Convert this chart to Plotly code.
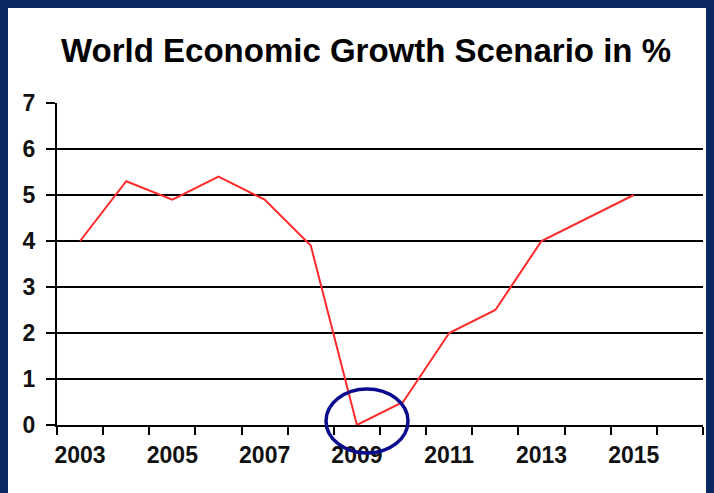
import plotly.graph_objects as go

years = ["2003", "2004", "2005", "2006", "2007", "2008", "2009",
         "2010", "2011", "2012", "2013", "2014", "2015", "2016"]
growth = [4.0, 5.3, 4.9, 5.4, 4.9, 3.9, 0.0, 0.5, 2.0, 2.5, 4.0, 4.5, 5.0, None]
tick_labels = ["2003", "", "2005", "", "2007", "", "2009",
               "", "2011", "", "2013", "", "2015", ""]
title_text = "World Economic Growth Scenario in %"

FONT = "Liberation Sans, Arial, sans-serif"
NAVY = "#0a2862"

fig = go.Figure()
fig.add_trace(go.Scatter(
    x=years, y=growth, mode="lines",
    line=dict(color="#ff2a2a", width=2),
    connectgaps=False, showlegend=False,
))

W, H = 714, 493
OFF = 8  # page offset of the plot div (body margin)
PX0, PX1, PY0, PY1 = 57, 703, 103, 425
L = PX0 - OFF
T = PY0 - OFF
R = W - (PX1 - OFF)
B = H - (PY1 - OFF)
pw, ph = PX1 - PX0, PY1 - PY0

def px2paper_x(px):
    return (px - PX0) / pw

def px2paper_y(py):
    return (PY1 - py) / ph

shapes = [
    # white panel: whole figure (navy frame comes from the page margin)
    dict(type="rect", xref="paper", yref="paper",
         x0=px2paper_x(OFF), x1=px2paper_x(W + OFF),
         y0=px2paper_y(H + OFF), y1=px2paper_y(OFF),
         fillcolor="white", line=dict(width=0), layer="below"),
    # highlight ellipse around 2009
    dict(type="circle", xref="paper", yref="paper",
         x0=px2paper_x(326), x1=px2paper_x(408),
         y0=px2paper_y(453), y1=px2paper_y(389),
         line=dict(color="#0b0b8e", width=3.5), layer="above"),
]

fig.update_layout(
    width=W, height=H,
    margin=dict(l=L, r=R, t=T, b=B, autoexpand=False),
    paper_bgcolor="white",
    plot_bgcolor="white",
    shapes=shapes,
    title=dict(text=title_text, x=(366 - OFF) / W, xref="container", xanchor="center",
               y=1 - (50 - OFF) / H, yref="container", yanchor="middle",
               font=dict(family=FONT, size=33, color="black", weight="bold")),
)

fig.update_xaxes(
    type="category", categoryorder="array", categoryarray=years,
    tickmode="array", tickvals=years, ticktext=tick_labels,
    tickson="boundaries", range=[-0.5, 13.5], tickangle=0,
    ticks="outside", ticklen=8, tickwidth=2, tickcolor="black",
    showline=True, linecolor="black", linewidth=2,
    showgrid=False, zeroline=False, automargin=False,
    tickfont=dict(family=FONT, size=23, color="#111", weight="bold"),
    ticklabelstandoff=8,
)
fig.update_yaxes(
    range=[0, 7], dtick=1, tick0=0,
    ticks="outside", ticklen=9, tickwidth=2, tickcolor="black",
    showline=True, linecolor="black", linewidth=2,
    showgrid=True, gridcolor="black", gridwidth=2,
    zeroline=False, automargin=False,
    tickfont=dict(family=FONT, size=23, color="#111", weight="bold"),
    ticklabelstandoff=6,
)

# page margin around the figure shows as the navy frame
page_style = ("document.documentElement.style.background='" + NAVY + "';"
              "document.body.style.background='" + NAVY + "';")

fig.write_html("out.html", post_script=page_style)
